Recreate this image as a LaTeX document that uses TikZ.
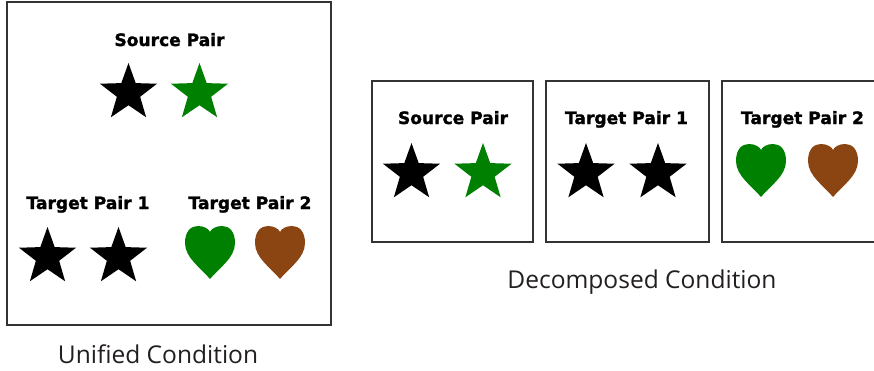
\documentclass[tikz,border=0pt]{standalone}
\usepackage{fontspec}
\usetikzlibrary{shapes.geometric,positioning}
\newfontfamily\pairfont{DejaVu Sans}[BoldFeatures={FakeBold=1.6}]
\newfontfamily\condfont{Open Sans}
\definecolor{stargreen}{HTML}{008000}
\definecolor{heartbrown}{HTML}{8B4513}
\definecolor{boxgray}{HTML}{333333}
\definecolor{textgray}{HTML}{231F20}
\tikzset{
    %Define style for the pair titles
    pairlabel/.style={
           anchor=base,
           inner sep=0pt,
           font=\pairfont\bfseries\fontsize{12.8}{15}\selectfont},
    % Define style for the condition captions
    condlabel/.style={
           anchor=base,
           inner sep=0pt,
           text=textgray,
           font=\condfont\fontsize{18.4}{22}\selectfont},
    % Define style for the panels
    panel/.style={
           draw=boxgray,
           line width=0.9pt},
    % Define style for the stars
    starnode/.style={
           star, star points=5,
           star point ratio=2.45,
           minimum size=45pt,
           inner sep=0pt,
           fill=#1},
    % Define the heart
    heart/.pic={
      \fill[#1] (0,27) .. controls (-9,16) and (-25,6) .. (-25,-9)
         .. controls (-25,-21) and (-19,-26) .. (-12,-26)
         .. controls (-6,-26) and (-1,-23) .. (0,-20)
         .. controls (1,-23) and (6,-26) .. (12,-26)
         .. controls (19,-26) and (25,-21) .. (25,-9)
         .. controls (25,6) and (9,16) .. (0,27) -- cycle;}
}
\begin{document}
\begin{tikzpicture}[x=0.75pt,y=-0.75pt]
\useasboundingbox (0,0) rectangle (874,371);
% unified condition
\draw[panel] (7,2) rectangle (331,325);
\node[pairlabel] (usrc) at (169.5,46) {Source Pair};
\node[starnode=black] (us1) at (128.5,93) {};
\node[starnode=stargreen] (us2) at (199.5,93) {};
\node[pairlabel] (ut1) at (88,209) {Target Pair 1};
\node[starnode=black] (ut11) at (47.5,257) {};
\node[starnode=black] (ut12) at (118.5,257) {};
\node[pairlabel] (ut2) at (250,209) {Target Pair 2};
\pic (uh1) at (210,252) {heart=stargreen};
\pic (uh2) at (280,252) {heart=heartbrown};
\node[condlabel] (ucap) at (158,363) {Unified Condition};
% decomposed condition
\draw[panel] (372,81) rectangle (533,242);
\draw[panel] (546,81) rectangle (709,242);
\draw[panel] (722,81) rectangle (884,242);
\node[pairlabel] (dsrc) at (453,124) {Source Pair};
\node[starnode=black] (ds1) at (411.5,173) {};
\node[starnode=stargreen] (ds2) at (483,173) {};
\node[pairlabel] (dt1) at (626.5,124) {Target Pair 1};
\node[starnode=black] (dt11) at (586,173) {};
\node[starnode=black] (dt12) at (658,173) {};
\node[pairlabel] (dt2) at (802.5,124) {Target Pair 2};
\pic (dh1) at (761,170) {heart=stargreen};
\pic (dh2) at (833,170) {heart=heartbrown};
\node[condlabel] (dcap) at (642,288) {Decomposed Condition};
\end{tikzpicture}
\end{document}
